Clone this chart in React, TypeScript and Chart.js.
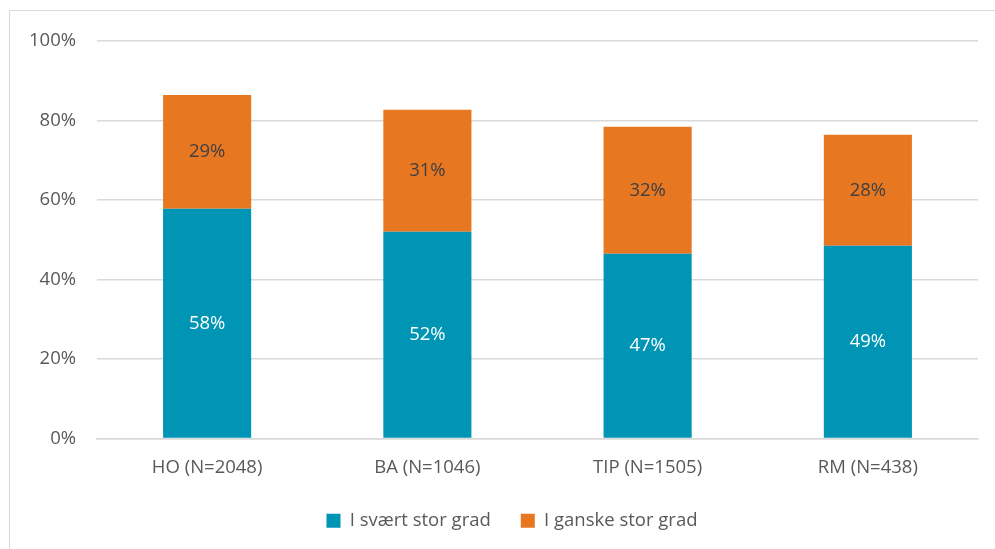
import React, { useEffect, useRef } from "react";
import { Chart, registerables } from "chart.js";

Chart.register(...registerables);

const categories = ["HO (N=2048)", "BA (N=1046)", "TIP (N=1505)", "RM (N=438)"];
const svaertStor = [57.8, 52.0, 46.5, 48.5];
const ganskeStor = [28.6, 30.7, 31.9, 27.9];
const yTicks = [0, 20, 40, 60, 80, 100];

const FONT = "'Open Sans', 'Noto Sans', sans-serif";
const FS = 18.5;

const labelPlugin = {
  id: "segLabels",
  afterLayout(chart: any) {
    if (chart.legend) {
      chart.legend.left += 23;
      chart.legend.right += 23;
    }
  },
  afterDatasetsDraw(chart: any) {
    const ctx = chart.ctx;
    ctx.save();
    ctx.font = `${FS}px ${FONT}`;
    ctx.textAlign = "center";
    ctx.textBaseline = "middle";
    chart.data.datasets.forEach((ds: any, di: number) => {
      const meta = chart.getDatasetMeta(di);
      meta.data.forEach((bar: any, i: number) => {
        const v = ds.data[i];
        const y = (bar.y + bar.base) / 2;
        ctx.fillStyle = di === 0 ? "#ffffff" : "#404040";
        ctx.fillText(`${Math.round(v)}%`, bar.x, y);
      });
    });
    ctx.restore();
  },
};

export default function App() {
  const ref = useRef<HTMLCanvasElement>(null);
  useEffect(() => {
    if (!ref.current) return;
    const chart = new Chart(ref.current, {
      type: "bar",
      data: {
        labels: categories,
        datasets: [
          {
            label: "I svært stor grad",
            data: svaertStor,
            backgroundColor: "#0095B5",
            categoryPercentage: 1,
            barPercentage: 0.4,
          },
          {
            label: "I ganske stor grad",
            data: ganskeStor,
            backgroundColor: "#E87722",
            categoryPercentage: 1,
            barPercentage: 0.4,
          },
        ],
      },
      options: {
        responsive: false,
        animation: false,
        maintainAspectRatio: false,
        layout: { padding: { left: 0, right: 17, top: 41, bottom: 9 } },
        plugins: {
          tooltip: { enabled: false },
          legend: {
            position: "bottom",
            labels: {
              boxWidth: 14,
              boxHeight: 14,
              padding: 30,
              color: "#595959",
              font: { family: FONT, size: FS },
            },
          },
        },
        scales: {
          x: {
            stacked: true,
            grid: { display: false },
            border: { color: "#D9D9D9", width: 1.5 },
            ticks: { color: "#595959", font: { family: FONT, size: FS }, padding: 10 },
            afterFit(scale: any) {
              scale.height = 43;
            },
          },
          y: {
            stacked: true,
            min: 0,
            max: 100,
            afterBuildTicks(scale: any) {
              scale.ticks = yTicks.map((v) => ({ value: v }));
            },
            grid: { color: "#D9D9D9", lineWidth: 1.5, drawTicks: false },
            border: { display: false },
            ticks: {
              color: "#595959",
              font: { family: FONT, size: FS },
              padding: 21,
              callback: (v: any) => `${v}%`,
            },
            afterFit(scale: any) {
              scale.width = 97;
            },
          },
        },
      },
      plugins: [labelPlugin],
    });
    return () => chart.destroy();
  }, []);
  return (
    <div style={{ position: "absolute", left: 0, top: 0, width: 995, height: 549, overflow: "hidden", background: "#fff" }}>
      <div
        style={{
          position: "absolute",
          left: 9,
          top: 10,
          width: 1000,
          height: 600,
          border: "1.5px solid #D9D9D9",
          boxSizing: "border-box",
        }}
      />
      <canvas ref={ref} width={995} height={549} style={{ position: "absolute", left: 0, top: 0 }} />
    </div>
  );
}
